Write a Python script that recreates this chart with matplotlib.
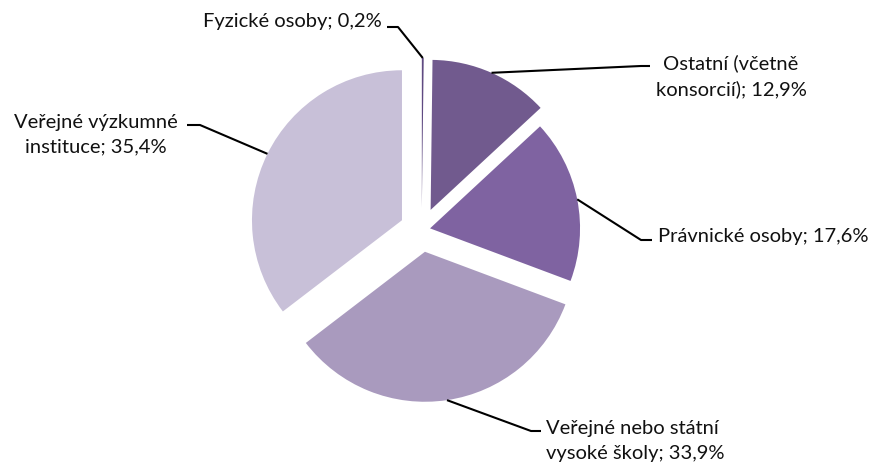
import numpy as np
import matplotlib.pyplot as plt

# data
labels = ['Fyzické osoby; 0,2%', 'Ostatní (včetně\nkonsorcií); 12,9%',
          'Právnické osoby; 17,6%', 'Veřejné nebo státní\nvysoké školy; 33,9%',
          'Veřejné výzkumné\ninstituce; 35,4%']
shares = [0.2, 12.9, 17.6, 33.9, 35.4]
colors = ['#5f4a82', '#715a8e', '#7f63a1', '#a99abe', '#c8c0d8']

W, H = 874, 464
fig = plt.figure(figsize=(W / 100, H / 100), dpi=100)
ax = fig.add_axes([0, 0, 1, 1])

cx, cy, R = 421.7, H - 231, 150
# matplotlib's explode is in data units here (pixels)
explode = [22, 22, 8.5, 22, 22]
wedges, _ = ax.pie(shares, colors=colors, explode=explode, startangle=90,
                   counterclock=False, center=(cx, cy), radius=R,
                   wedgeprops=dict(linewidth=0), frame=True)
ax.axis('off')
ax.set_xlim(0, W)
ax.set_ylim(0, H)
ax.set_aspect('equal')

# label layout: (elbow x, elbow y, end x, text x, text y, ha) in image pixels
layout = [
    (398, 28, 387, 382, 21, 'right', 'right'),
    (641, 67, 650, 731, 76, 'center', 'center'),
    (641, 241, 652, 658, 237, 'left', 'left'),
    (531, 432, 541, 546, 441, 'left', 'left'),
    (200, 126, 187, 96, 135, 'center', 'center'),
]

for w, lab, (ex, ey, hx, tx, ty, ha, ma) in zip(wedges, labels, layout):
    mid = np.deg2rad((w.theta1 + w.theta2) / 2)
    wx, wy = w.center
    px = wx + w.r * np.cos(mid)
    py = wy + w.r * np.sin(mid)
    ax.plot([px, ex, hx], [py, H - ey, H - ey], color='black', lw=1.5,
            solid_capstyle='butt')
    ax.text(tx, H - ty, lab, ha=ha, va='center', multialignment=ma,
            fontsize=14.5, family='Lato', color='#111111', linespacing=1.55)

fig.savefig('out.png', dpi=100)
